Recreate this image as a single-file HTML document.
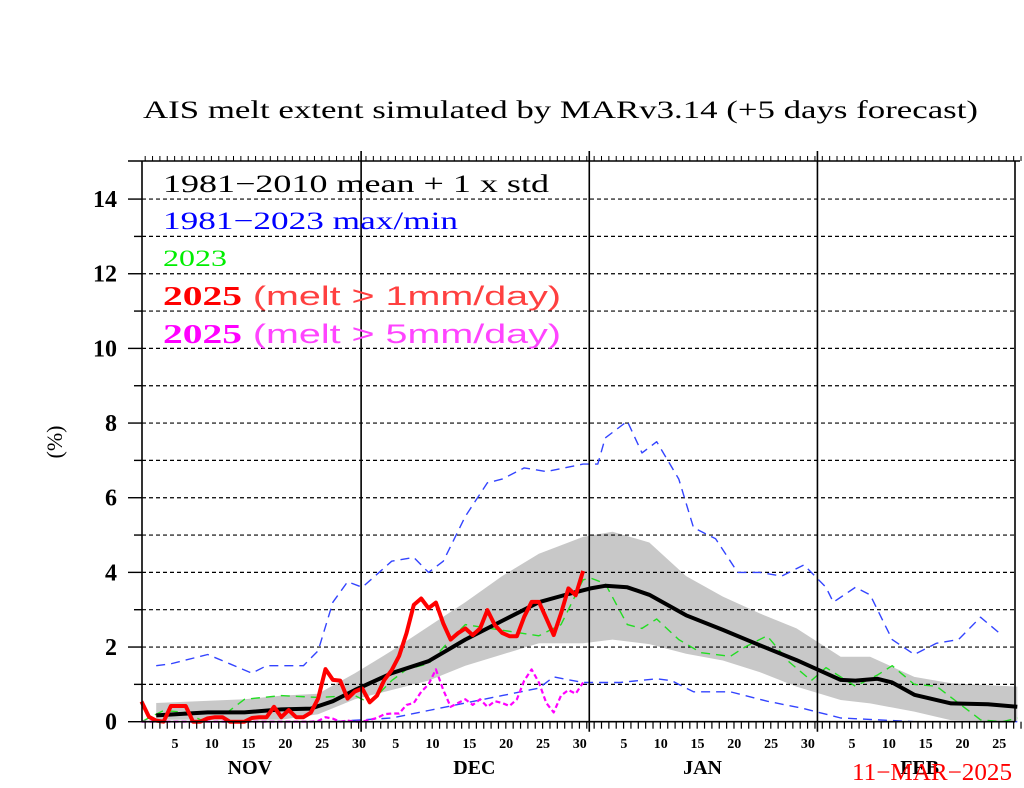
<!DOCTYPE html>
<html><head><meta charset="utf-8"><style>
html,body{margin:0;padding:0;background:#fff;}
svg{display:block;}
text{font-family:"Liberation Serif",serif;}
</style></head><body>
<svg id="chart" width="1024" height="788" viewBox="0 0 1024 788" xmlns="http://www.w3.org/2000/svg">
<rect width="1024" height="788" fill="#fff"/>
<text x="143" y="118" font-size="25" textLength="835" lengthAdjust="spacingAndGlyphs">AIS melt extent simulated by MARv3.14 (+5 days forecast)</text>
<g id="band"></g><g id="grid"></g><g id="series"></g><g id="axes"></g>
<g>
<text x="163" y="192" font-size="25" textLength="386" lengthAdjust="spacingAndGlyphs">1981−2010 mean + 1 x std</text>
<text x="163" y="229" font-size="25" fill="#0000ff" textLength="295" lengthAdjust="spacingAndGlyphs">1981−2023 max/min</text>
<text x="163" y="266" font-size="23" fill="#00ee00" textLength="64" lengthAdjust="spacingAndGlyphs">2023</text>
<text x="163" y="305" font-size="27" fill="#ff0000" textLength="398" lengthAdjust="spacingAndGlyphs"><tspan font-weight="bold">2025</tspan><tspan font-family="Liberation Sans, sans-serif" fill="#ff4040"> (melt &gt; 1mm/day)</tspan></text>
<text x="163" y="343" font-size="27" fill="#ff00ff" textLength="398" lengthAdjust="spacingAndGlyphs"><tspan font-weight="bold">2025</tspan><tspan font-family="Liberation Sans, sans-serif" fill="#ff44ff"> (melt &gt; 5mm/day)</tspan></text>
</g>
<text transform="translate(62,442) rotate(-90)" text-anchor="middle" font-size="22" font-family="Liberation Sans, sans-serif">(%)</text>
<text x="1012" y="780" text-anchor="end" font-size="24" fill="#ff0000" textLength="160" lengthAdjust="spacingAndGlyphs">11−MAR−2025</text>
</svg>
<script>
// ---- data (day index: 0 = Nov 1) ----
const redVals = [0.54,0.13,0.03,0,0.42,0.42,0.42,0,0,0.09,0.12,0.12,0,0,0,0.1,0.12,0.12,0.4,0.12,0.31,0.12,0.12,0.24,0.62,1.41,1.12,1.1,0.62,0.81,0.89,0.52,0.7,1.12,1.38,1.76,2.37,3.13,3.3,3.04,3.19,2.63,2.2,2.37,2.5,2.32,2.5,2.99,2.59,2.38,2.29,2.29,2.81,3.21,3.21,2.77,2.32,2.9,3.57,3.39,4.04];
const magentaVals = [0,0,0,0,0,0,0,0,0,0,0,0,0,0,0,0,0,0,0,0,0,0,0,0,0.02,0.12,0.08,0,0.03,0,0,0.05,0.1,0.2,0.22,0.22,0.45,0.5,0.8,1.0,1.4,0.85,0.4,0.5,0.6,0.45,0.6,0.4,0.55,0.5,0.42,0.6,1.1,1.4,1.05,0.5,0.25,0.7,0.85,0.75,1.05];
const meanDays = [2,9,14,19,23,26,29,34,39,44,49,54,58,61,63,66,69,74,79,84,89,95,97,100,102,105,110,115,119];
const meanVals = [0.17,0.25,0.25,0.33,0.35,0.55,0.85,1.3,1.62,2.2,2.7,3.2,3.42,3.57,3.64,3.6,3.4,2.85,2.46,2.05,1.65,1.12,1.1,1.15,1.05,0.72,0.49,0.47,0.4];
const bandDays = [2,14,19,24,29,34,39,44,49,54,60,64,69,74,79,84,89,95,99,105,110,119];
const bandUpper = [0.5,0.6,0.7,0.75,1.3,1.9,2.55,3.2,3.9,4.5,4.95,5.09,4.8,3.9,3.35,2.9,2.5,1.74,1.74,1.2,1.03,0.94];
const bandLower = [0.05,0.05,0.05,0.2,0.6,0.85,1.1,1.5,1.8,2.1,2.1,2.2,2.08,1.82,1.64,1.33,0.94,0.58,0.49,0.27,0.04,0];
const greenDays = [0,3,6,8,11,14,19,24,29,31,34,36,39,42,44,49,54,57,60,61,63,66,68,70,73,76,80,82,85,88,91,93,97,100,102,105,108,111,114,117,119];
const greenVals = [0,0.3,0.25,0.05,0.15,0.6,0.7,0.65,0.7,0.5,1.1,1.4,1.55,2.2,2.6,2.45,2.3,2.6,3.8,3.85,3.7,2.6,2.5,2.75,2.2,1.85,1.75,2.0,2.3,1.6,1.1,1.45,0.95,1.25,1.5,1.0,0.95,0.5,0.05,0,0.1];
const maxDays = [2,4,9,12,15,17,22,24,26,28,30,34,37,39,41,44,47,49,52,55,60,62,63,66,68,70,73,75,78,81,84,87,90,93,94,97,99,102,105,108,111,114,117];
const maxVals = [1.5,1.55,1.8,1.55,1.3,1.5,1.5,1.9,3.2,3.75,3.6,4.3,4.4,4.0,4.3,5.5,6.4,6.5,6.8,6.7,6.9,6.9,7.6,8.05,7.2,7.5,6.5,5.2,4.9,4.0,4.0,3.9,4.2,3.6,3.2,3.6,3.4,2.2,1.8,2.1,2.2,2.8,2.3];
const minDays = [0,26,30,34,39,44,49,54,56,60,65,70,72,75,80,85,90,95,100,105,119];
const minVals = [0,0,0.05,0.1,0.3,0.5,0.7,0.9,1.2,1.05,1.05,1.15,1.1,0.8,0.8,0.55,0.35,0.1,0.05,0,0];
const yTicks = [0,2,4,6,8,10,12,14];
const dayTickLabels = [5,10,15,20,25,30,5,10,15,20,25,30,5,10,15,20,25,30,5,10,15,20,25];
const dayTickIdx = [4,9,14,19,24,29,34,39,44,49,54,59,65,70,75,80,85,90,96,101,106,111,116];
const months = ["NOV","DEC","JAN","FEB"];
const monthStart = [0,30,61,92];
const monthLen = [30,31,31,28];

// ---- axes ----
const X0 = 141.5, DX = 7.36, Y0 = 721.7, DY = 37.33, LEFT = 142, RIGHT = 1015, TOP = 161;
const x = d => X0 + d * DX;
const y = v => Y0 - v * DY;
const NS = "http://www.w3.org/2000/svg";
function mk(tag, parent, attrs) { const e = document.createElementNS(NS, tag); for (const k in attrs) e.setAttribute(k, attrs[k]); parent.appendChild(e); return e; }
const G = id => document.getElementById(id);
const pts = (ds, vs) => ds.map((d, i) => x(d).toFixed(1) + "," + y(vs[i]).toFixed(1)).join(" ");
const idx = a => a.map((_, i) => i);

// band
let bp = bandDays.map((d, i) => x(d).toFixed(1) + "," + y(bandUpper[i]).toFixed(1));
for (let i = bandDays.length - 1; i >= 0; i--) bp.push(x(bandDays[i]).toFixed(1) + "," + y(bandLower[i]).toFixed(1));
const band = mk("polygon", G("band"), { points: bp.join(" "), fill: "#c8c8c8" });



// grid
for (let v = 1; v <= 14; v++) {
  const l = mk("line", G("grid"), { x1: LEFT, x2: RIGHT, y1: y(v), y2: y(v), stroke: "#000", "stroke-width": 1.2, "stroke-dasharray": "4,3" });
  
  
}

// series
function line(ds, vs, color, w, dash, name) {
  const p = mk("polyline", G("series"), { points: pts(ds, vs), fill: "none", stroke: color, "stroke-width": w, "stroke-linejoin": "round" });
  if (dash) p.setAttribute("stroke-dasharray", dash);
  
  
}
line(maxDays, maxVals, "#3344ff", 1.4, "9,6", "max-line");
line(minDays, minVals, "#3344ff", 1.4, "9,6", "min-line");
line(greenDays, greenVals, "#22dd22", 1.4, "9,6", "line-2023");
line(meanDays, meanVals, "#000", 4, null, "mean-line");
line(idx(magentaVals), magentaVals, "#ff00ff", 2.2, "5,3", "line-2025-5mm");
line(idx(redVals), redVals, "#ff0000", 4, null, "line-2025-1mm");

// axes
const ax = G("axes");
const frame = [[LEFT, TOP, LEFT, Y0], [LEFT, Y0, RIGHT, Y0], [RIGHT, TOP, RIGHT, Y0], [128, TOP, 1020, TOP]];
frame.forEach(f => { const l = mk("line", ax, { x1: f[0], y1: f[1], x2: f[2], y2: f[3], stroke: "#000", "stroke-width": 1.6 });   });
for (let d = 0; d < 120; d++) {
  const xx = x(d + 0.5);
  mk("line", ax, { x1: xx, x2: xx, y1: Y0, y2: Y0 + 7, stroke: "#000", "stroke-width": 1.2 });
  mk("line", ax, { x1: xx, x2: xx, y1: TOP, y2: TOP - 5, stroke: "#000", "stroke-width": 1 });
}
monthStart.slice(1).forEach(m => {
  const l = mk("line", ax, { x1: x(m - 0.5) + 2.5, x2: x(m - 0.5) + 2.5, y1: TOP - 10, y2: Y0 + 10, stroke: "#000", "stroke-width": 1.6 });
  
  
});
for (let v = 0; v <= 14; v++) {
  mk("line", ax, { x1: v % 2 ? 134 : 128, x2: LEFT, y1: y(v), y2: y(v), stroke: "#000", "stroke-width": 1.4 });
}
yTicks.forEach(v => {
  const t = mk("text", ax, { x: 117, y: y(v) + 8, "text-anchor": "end", "font-size": 24, "font-weight": "bold" });
  t.textContent = v;
  
  
});
dayTickLabels.forEach((lab, i) => {
  const t = mk("text", ax, { x: x(dayTickIdx[i]) + 4, y: 748, "text-anchor": "middle", "font-size": 14, "font-weight": "bold" });
  t.textContent = lab;
  
  
});
months.forEach((m, i) => {
  const t = mk("text", ax, { x: x(monthStart[i] + monthLen[i] / 2) - 2, y: 774, "text-anchor": "middle", "font-size": 20, "font-weight": "bold" });
  t.textContent = m;
  
  
});
</script>
</body></html>
